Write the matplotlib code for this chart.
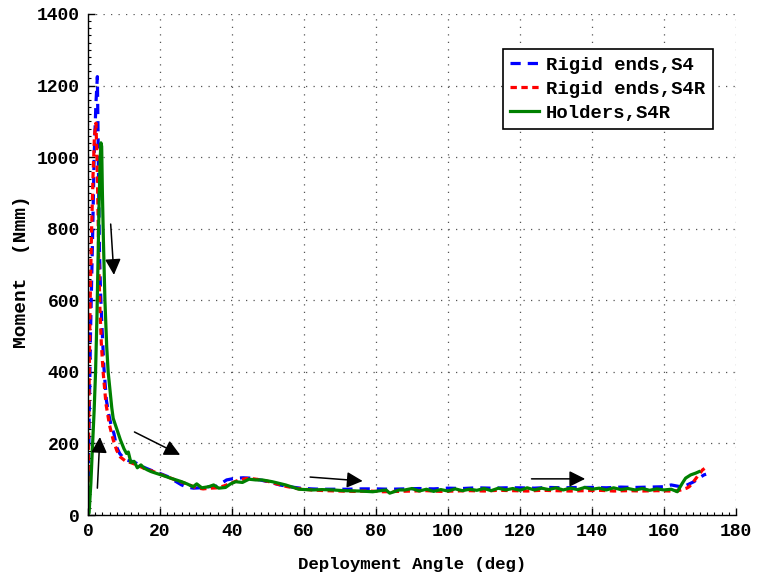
import matplotlib
matplotlib.use("Agg")
import matplotlib.pyplot as plt
from matplotlib.ticker import MultipleLocator

plt.rcParams['font.family'] = ['Liberation Mono', 'DejaVu Sans Mono']
plt.rcParams['font.weight'] = 'bold'

# Rigid ends, S4
ang_s4 = [0, 0.1, 0.3, 0.7, 1.0, 1.3, 1.7, 2.2, 2.6, 2.8,
          3.0, 3.2, 3.5, 3.8, 4.4, 5.1, 5.8, 6.5, 7.2, 7.9,
          8.8, 9.8, 10.6, 11.6, 12.6, 13.4, 14.5, 16.3, 18.0, 20.0,
          22.0, 23.7, 25.0, 26.0, 27.5, 29.3, 31.0, 33.0, 35.7, 37.0,
          38.5, 40.0, 41.5, 43.1, 45.0, 47.8, 50.0, 53.3, 56.0, 58.9,
          62, 64.4, 68, 72, 76, 80, 84, 88, 92, 96,
          100, 104, 108, 112, 116, 120, 124, 128, 132, 136,
          140, 144, 148, 152, 156, 160, 162, 164.6, 166, 168.3,
          170, 171.1, 171.7]
mom_s4 = [0, 100, 250, 510, 650, 790, 1000, 1150, 1225, 1060,
          880, 730, 620, 545, 415, 321, 280, 247, 228, 191,
          172, 160, 154, 151, 149, 145, 138, 130, 123, 116,
          108, 98, 90, 84, 78, 75, 76, 79, 80, 88,
          98, 101, 103, 104, 103, 98, 93, 84, 79, 75,
          73, 72, 72, 72, 73, 73, 72, 73, 74, 73,
          75, 74, 76, 75, 76, 76, 75, 77, 76, 77,
          77, 76, 78, 77, 78, 79, 84, 79, 82, 93,
          105, 112, 114]

# Rigid ends, S4R
ang_s4r = [0, 0.1, 0.3, 0.6, 1.0, 1.4, 1.8, 2.2, 2.5, 2.8,
           3.0, 3.3, 3.7, 4.2, 5.0, 6.0, 7.0, 8.0, 9.0, 10.5,
           12, 14, 16, 18, 20, 22, 24, 26, 28, 30,
           32, 34, 36, 38, 40, 42, 44, 46, 48, 50,
           52, 55, 58, 62, 66, 70, 74, 78, 82, 86,
           90, 94, 98, 102, 106, 110, 114, 118, 122, 126,
           130, 134, 138, 142, 146, 150, 154, 158, 162, 164,
           166.3, 167, 167.9, 169.3, 170.7, 171.7]
mom_s4r = [0, 150, 350, 600, 800, 950, 1060, 1095, 1000, 840,
           700, 580, 480, 400, 310, 250, 210, 180, 162, 150,
           146, 138, 128, 122, 114, 107, 99, 92, 85, 76,
           73, 75, 76, 82, 90, 98, 102, 101, 98, 94,
           88, 80, 74, 70, 68, 67, 66, 67, 65, 66,
           67, 68, 66, 67, 68, 67, 69, 68, 67, 69,
           68, 67, 68, 69, 67, 68, 67, 68, 67, 68,
           75, 79, 89, 108, 126, 133]

# Holders, S4R
ang_hold = [0, 0.3, 0.8, 1.2, 1.7, 2.1, 2.5, 2.8, 3.1, 3.4,
            3.6, 3.8, 4.0, 4.3, 4.7, 5.2, 5.6, 6.2, 6.6, 7.0,
            7.5, 8.0, 9.0, 10.0, 10.7, 11.2, 11.9, 12.8, 13.7, 14.7,
            15.6, 16.5, 17.6, 18.5, 19.4, 20.4, 21.5, 23.2, 24.5, 26.0,
            27.5, 29.2, 30.2, 31.6, 33.5, 34.9, 36.3, 38.2, 39.6, 41.0,
            42.9, 44.7, 46.6, 48.4, 51.2, 54.9, 58.6, 62.4, 65, 68,
            71, 75.4, 79.1, 82.8, 83.8, 86.5, 88, 90, 92, 94,
            96, 98, 100, 102, 104, 106, 108, 110, 112, 114,
            116, 118, 120, 122, 124, 126, 128, 130, 132, 134,
            136, 138, 140, 142, 144, 146, 148, 150, 152, 154,
            156, 158, 160, 162, 163.7, 165.1, 166, 167.4, 168.8, 169.7]
mom_hold = [0, 6, 89, 182, 290, 400, 560, 720, 880, 1000,
            1040, 1030, 900, 760, 600, 470, 400, 340, 300, 270,
            255, 240, 210, 185, 172, 176, 147, 150, 132, 140,
            131, 126, 121, 118, 115, 112, 108, 102, 98, 93,
            87, 79, 87, 76, 79, 84, 75, 77, 87, 93,
            91, 100, 98, 98, 93, 84, 72, 70, 71, 70,
            68, 67, 65, 70, 61, 70, 70, 74, 67, 72,
            66, 71, 67, 73, 68, 72, 69, 74, 68, 75,
            70, 74, 69, 76, 70, 75, 71, 76, 70, 75,
            71, 77, 72, 75, 70, 76, 71, 74, 70, 74,
            69, 73, 70, 72, 65, 89, 103, 112, 117, 121]

# arrow annotations: (tail, head) in data coordinates
arrow_tails = [(6.3, 813), (2.6, 75), (12.9, 232), (61.7, 106), (123.2, 101)]
arrow_heads = [(7.2, 671), (3.3, 218), (25.6, 168), (76.3, 95), (138.1, 101)]

fig = plt.figure(figsize=(7.6, 5.79), dpi=100)
ax = fig.add_axes([88 / 760, 64 / 579, 648 / 760, 501 / 579])

ax.plot(ang_s4, mom_s4, color='#0000ff', lw=2.3, ls=(0, (3.2, 2.2)), label='Rigid ends,S4')
ax.plot(ang_s4r, mom_s4r, color='#ff0000', lw=2.3, ls=(0, (2.0, 1.4)), label='Rigid ends,S4R')
ax.plot(ang_hold, mom_hold, color='#008000', lw=2.3, label='Holders,S4R')

for tail, head in zip(arrow_tails, arrow_heads):
    ax.annotate('', xy=head, xytext=tail,
                arrowprops=dict(arrowstyle='-|>', color='k', lw=1.1,
                                mutation_scale=24, shrinkA=0, shrinkB=0))

ax.set_xlim(0, 180)
ax.set_ylim(0, 1400)
ax.xaxis.set_major_locator(MultipleLocator(20))
ax.xaxis.set_minor_locator(MultipleLocator(2))
ax.yaxis.set_major_locator(MultipleLocator(200))
ax.yaxis.set_minor_locator(MultipleLocator(20))
ax.tick_params(which='both', direction='in', top=False, right=False, labelsize=13)
ax.tick_params(which='major', length=5, width=1, pad=6)
ax.tick_params(which='minor', length=2.5, width=0.8)

ax.grid(True, which='major', color='#555555', ls=(0, (1, 5)), lw=0.9)
ax.spines['top'].set_visible(False)
ax.spines['right'].set_visible(False)
ax.spines['left'].set_linewidth(1)
ax.spines['bottom'].set_linewidth(1)

ax.set_xlabel('Deployment Angle (deg)', fontsize=12.5, fontweight='bold', labelpad=12)
ax.set_ylabel('Moment  (Nmm)', fontsize=14, fontweight='bold', labelpad=5)
ax.yaxis.label.set_y(0.485)

leg = ax.legend(loc='upper right', bbox_to_anchor=(0.9645, 0.930), borderaxespad=0,
                fontsize=13.6, fancybox=False, framealpha=1, edgecolor='k',
                handlelength=1.5, handletextpad=0.4, borderpad=0.4, labelspacing=0.35)
leg.get_frame().set_linewidth(1.2)

fig.savefig('out.png', dpi=100)
